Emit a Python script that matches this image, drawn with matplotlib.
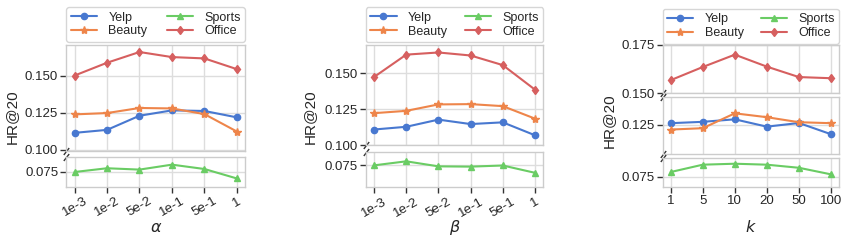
import matplotlib
matplotlib.use("Agg")
import matplotlib.pyplot as plt
import matplotlib.ticker as mticker
import seaborn as sns

# ---- data ----
series_names = ['Yelp', 'Beauty', 'Sports', 'Office']

alpha_labels = ['1e-3', '1e-2', '5e-2', '1e-1', '5e-1', '1']
alpha_yelp = [0.1115, 0.1135, 0.1230, 0.1266, 0.1262, 0.1219]
alpha_beauty = [0.1239, 0.1248, 0.1282, 0.1279, 0.1241, 0.1124]
alpha_sports = [0.0748, 0.0773, 0.0764, 0.0797, 0.0768, 0.0705]
alpha_office = [0.1500, 0.1586, 0.1658, 0.1624, 0.1615, 0.1543]

beta_labels = ['1e-3', '1e-2', '5e-2', '1e-1', '5e-1', '1']
beta_yelp = [0.1108, 0.1127, 0.1177, 0.1146, 0.1158, 0.1068]
beta_beauty = [0.1222, 0.1238, 0.1283, 0.1285, 0.1271, 0.1184]
beta_sports = [0.0750, 0.0778, 0.0743, 0.0741, 0.0749, 0.0698]
beta_office = [0.1474, 0.1630, 0.1645, 0.1624, 0.1557, 0.1386]

k_labels = ['1', '5', '10', '20', '50', '100']
k_yelp = [0.1259, 0.1266, 0.1279, 0.1241, 0.1260, 0.1202]
k_beauty = [0.1226, 0.1233, 0.1310, 0.1290, 0.1264, 0.1259]
k_sports = [0.0774, 0.0812, 0.0817, 0.0812, 0.0796, 0.0762]
k_office = [0.1568, 0.1636, 0.1700, 0.1638, 0.1584, 0.1578]

sns.set_theme(style='whitegrid', palette='muted',
              rc={'xtick.bottom': True, 'ytick.left': True,
                  'axes.linewidth': 1.0, 'axes.edgecolor': '#cccccc',
                  'grid.color': '#dddddd', 'grid.linewidth': 1.0})
plt.rcParams['font.family'] = ['Liberation Sans', 'DejaVu Sans']

colors = sns.color_palette('muted')
styles = {
    'Yelp': dict(color=colors[0], marker='o', markersize=4.5),
    'Beauty': dict(color=colors[1], marker='*', markersize=6),
    'Sports': dict(color=colors[2], marker='^', markersize=4.5),
    'Office': dict(color=colors[3], marker='d', markersize=4.5),
}

fig = plt.figure(figsize=(8.47, 2.41), dpi=100)


def draw_panel(rects, ylims, yticks, labels, data, xlabel, rotate):
    axes = []
    for rect, ylim, ticks in zip(rects, ylims, yticks):
        ax = fig.add_axes(rect)
        x = list(range(len(labels)))
        for name in series_names:
            ax.plot(x, data[name], label=name, linewidth=1.5, **styles[name])
        ax.set_ylim(*ylim)
        ax.set_xlim(-0.25, len(labels) - 0.75)
        ax.set_yticks(ticks)
        ax.yaxis.set_major_formatter(mticker.FormatStrFormatter('%.3f'))
        ax.set_xticks(x)
        ax.tick_params(axis='y', labelsize=9.5, length=4, width=1, color='#333333', pad=2)
        ax.tick_params(axis='x', labelsize=9.5, length=4, width=1, color='#333333', pad=2)
        axes.append(ax)

    for ax in axes[:-1]:
        ax.tick_params(axis='x', bottom=False, labelbottom=False)
    bottom = axes[-1]
    if rotate:
        bottom.set_xticklabels(labels, rotation=30, ha='center')
    else:
        bottom.set_xticklabels(labels)
    bottom.set_xlabel(xlabel, fontsize=11.5)
    # put the x label at the same pixel height in every panel
    bottom.xaxis.set_label_coords(0.5, -(227 - 186.7) / (rects[-1][3] * 241))
    bottom.xaxis.label.set_va('center')

    # broken axis marks on the left spine
    mk = dict(marker=[(-1, -1.3), (1, 1.3)], markersize=5, linestyle='none',
              color='#333333', mec='#333333', mew=1, clip_on=False)
    for upper, lower in zip(axes[:-1], axes[1:]):
        upper.plot([0], [0], transform=upper.transAxes, **mk)
        lower.plot([0], [1], transform=lower.transAxes, **mk)

    axes[0].legend(loc='lower left', bbox_to_anchor=(0.0, 1.03, 1.0, 0.3),
                   mode='expand', ncol=2, fontsize=9, frameon=True,
                   borderaxespad=0, handlelength=2.1, borderpad=0.35,
                   labelspacing=0.15, handletextpad=0.9)
    return axes


draw_panel([[0.0785, 0.3734, 0.2107, 0.4398], [0.0785, 0.2253, 0.2107, 0.1245]],
           [(0.0993, 0.1705), (0.065, 0.085)],
           [[0.100, 0.125, 0.150], [0.075]],
           alpha_labels,
           {'Yelp': alpha_yelp, 'Beauty': alpha_beauty, 'Sports': alpha_sports, 'Office': alpha_office},
           r'$\alpha$', True)

draw_panel([[0.4321, 0.3983, 0.2090, 0.4149], [0.4321, 0.2228, 0.2090, 0.1477]],
           [(0.100, 0.1697), (0.0597, 0.0845)],
           [[0.100, 0.125, 0.150], [0.075]],
           beta_labels,
           {'Yelp': beta_yelp, 'Beauty': beta_beauty, 'Sports': beta_sports, 'Office': beta_office},
           r'$\beta$', True)

draw_panel([[0.7824, 0.6129, 0.2081, 0.2004], [0.7824, 0.3598, 0.2081, 0.2365],
            [0.7824, 0.2253, 0.2081, 0.1178]],
           [(0.150, 0.175), (0.1098, 0.1393), (0.0698, 0.0845)],
           [[0.150, 0.175], [0.125], [0.075]],
           k_labels,
           {'Yelp': k_yelp, 'Beauty': k_beauty, 'Sports': k_sports, 'Office': k_office},
           r'$k$', False)

for xpos, ypos in [(12, 117), (310, 117), (609, 121)]:
    fig.text(xpos / 847, 1 - ypos / 241, 'HR@20', rotation=90, fontsize=11,
             ha='center', va='center')

fig.savefig('out.png', dpi=100)
